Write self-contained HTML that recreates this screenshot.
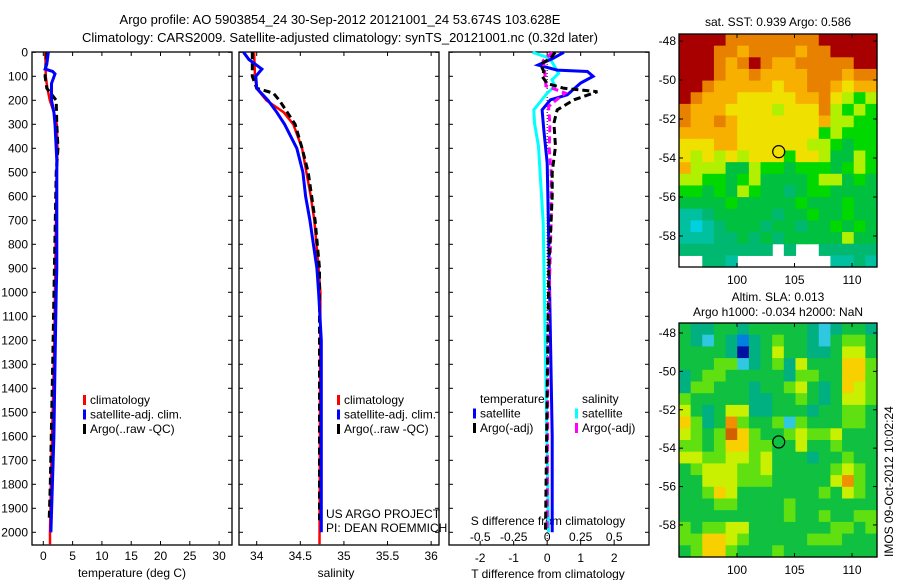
<!DOCTYPE html>
<html><head><meta charset="utf-8"><style>
body{margin:0;background:#fff;}
svg{display:block;font-family:"Liberation Sans",sans-serif;}
</style></head><body>
<svg id="fig" width="900" height="580" xmlns="http://www.w3.org/2000/svg"></svg>
<script>
// ---------- data ----------
const tempClimDepth=[0,50,100,150,200,250,300,400,500,800,1000,1200,1500,1800,2000,2050];
const tempClim=[0.3,0.4,0.4,0.7,1.1,1.8,2.3,2.4,2.3,2.1,2.0,1.9,1.6,1.3,1.15,1.15];
const tempSatDepth=[0,50,70,80,90,130,200,250,300,450,900,1000,1300,1600,2000];
const tempSat=[0.85,0.6,0.3,1.6,2.0,1.4,1.4,1.8,2.0,2.3,2.3,2.2,2.0,1.8,1.3];
const tempArgoDepth=[0,100,150,200,300,400,500,900,1300,1800,1950];
const tempArgo=[0.6,0.3,0.6,2.2,2.3,2.5,2.2,1.9,1.6,1.2,1.0];
const salClimDepth=[0,100,150,200,250,300,400,500,600,700,900,1000,2050];
const salClim=[33.97,33.98,34.0,34.11,34.31,34.42,34.52,34.57,34.62,34.66,34.71,34.73,34.72];
const salArgoDepth=[0,100,150,170,200,300,400,500,700,900,1950];
const salArgo=[33.95,33.95,34.0,34.19,34.26,34.44,34.52,34.59,34.67,34.72,34.72];
const salSatDepth=[0,30,70,100,150,200,250,300,400,500,600,700,800,900,1000,1200,2000];
const salSat=[33.85,33.91,34.06,33.99,34.0,34.13,34.23,34.32,34.46,34.53,34.56,34.61,34.65,34.69,34.71,34.74,34.74];
const dTsatDepth=[0,25,53,74,80,100,128,177,198,240,323,462,800,1200,1600,2000];
const dTsat=[0.5,0.18,-0.27,0.3,1.2,1.37,1.0,0.6,0.1,-0.15,-0.1,0.0,0.05,0.1,0.15,0.15];
const dTargoDepth=[0,25,50,80,100,130,150,164,198,240,295,392,500,600,900,1400,2000];
const dTargo=[0.24,0.1,-0.2,-0.1,-0.15,0.0,0.5,1.5,0.8,0.3,0.2,0.25,0.15,0.15,0.05,0.0,-0.05];
const dSsatDepth=[0,25,88,115,140,170,205,240,295,392,530,710,1200,2000];
const dSsat=[-0.11,0.02,0.085,0.035,0.06,0.0,-0.05,-0.1,-0.095,-0.065,-0.05,-0.03,-0.015,0.01];
const dSargoDepth=[0,35,100,140,170,184,226,300,400,500,700,1200,2000];
const dSargo=[0.04,-0.03,-0.015,-0.01,0.135,0.1,0.01,0.02,0.015,0.03,0.03,0.005,0.0];
const depthTicks=[0,100,200,300,400,500,600,700,800,900,1000,1100,1200,1300,1400,1500,1600,1700,1800,1900,2000];
const tempTicks=[0,5,10,15,20,25,30];
const salTicks=[34,34.5,35,35.5,36];
const salTickLabels=["34","34.5","35","35.5","36"];
const dTTicks=[-2,-1,0,1,2];
const dSTicks=[-0.5,-0.25,0,0.25,0.5];
const latTicks=[-48,-50,-52,-54,-56,-58];
const lonTicks=[100,105,110];
const argoLon=103.628, argoLat=-53.674;
const sstGrid=[
"99998888888899999","99988788887889999","99987898778888899","99987787777888788",
"99877777677887677","98777666667786545","87776666566685454","87787666666675544",
"77777666666645444","66677666666554344","65656566646653354","75553354434443454",
"55443453333455343","44343543323443333","33334333334333433","11233333233433433",
"10123332332334343","11122323233333533","22222222.2..22222","..221........1121"];
const slaGrid=[
"43344344444323443","43243134544324554","44443034644334664","44455234536444775",
"34554444435544775","35544434456434765","54444433445434665","64346633444344554",
"75348544525444554","65459754456556444","55457755446445444","66556656444344544",
"45666556444445654","44666555444446854","44576444444454654","44455444454444444",
"44444444454454455","54556644444445545","55776544444555444","45775444544444444"];
// ---------- helpers ----------
const svg=document.getElementById('fig');
const NS='http://www.w3.org/2000/svg';
function mk(tag,attrs,parent){const e=document.createElementNS(NS,tag);for(const k in attrs)e.setAttribute(k,attrs[k]);(parent||svg).appendChild(e);return e;}
function txt(x,y,s,anchor,size,parent){const t=mk('text',{x:x,y:y,'text-anchor':anchor||'start','font-size':size||12,fill:'#000'},parent);t.textContent=s;return t;}
const Y=d=>52.3+d*0.24;
const P1={x0:32,x1:232,v0:-1.93,v1:32.2};
const P2={x0:239,x1:439,v0:33.797,v1:36.09};
const P3={x0:449,x1:649,v0:-2.93,v1:3.04};
const P3s={x0:449,x1:649,v0:-0.733,v1:0.76};
const X=(p,v)=>p.x0+(v-p.v0)/(p.v1-p.v0)*(p.x1-p.x0);
const yTop=52,yBot=545;

function frame(p,name){
  const g=mk('g',{});
  
  
  mk('rect',{x:p.x0,y:yTop,width:p.x1-p.x0,height:yBot-yTop,fill:'none',stroke:'#000','stroke-width':1.3},g);
  depthTicks.forEach(d=>{const y=Y(d);mk('line',{x1:p.x0,x2:p.x0+4,y1:y,y2:y,stroke:'#000'},g);mk('line',{x1:p.x1-4,x2:p.x1,y1:y,y2:y,stroke:'#000'},g);});
  return g;
}
function line(p,depths,vals,color,w,dash,name){
  const pts=depths.map((d,i)=>X(p,vals[i]).toFixed(1)+','+Y(d).toFixed(1)).join(' ');
  const e=mk('polyline',{points:pts,fill:'none',stroke:color,'stroke-width':w,'stroke-dasharray':dash||'none'});
  
  
}
function xticks(p,ticks,labels,ly,g){
  ticks.forEach((t,i)=>{const x=X(p,t);mk('line',{x1:x,x2:x,y1:yTop,y2:yTop+4,stroke:'#000'},g);mk('line',{x1:x,x2:x,y1:yBot-4,y2:yBot,stroke:'#000'},g);
    if(labels)txt(x,ly,labels[i],'middle',12,g);});
}
let t=txt(340,24,'Argo profile: AO 5903854_24 30-Sep-2012 20121001_24 53.674S 103.628E','middle',13);

t=txt(340,42,'Climatology: CARS2009. Satellite-adjusted climatology: synTS_20121001.nc (0.32d later)','middle',13);


const g1=frame(P1,'temperature-panel');
depthTicks.forEach(d=>txt(28,Y(d)+4,String(d),'end',12,g1));
xticks(P1,tempTicks,tempTicks.map(String),560,g1);
txt(132,577,'temperature (deg C)','middle',12,g1);
line(P1,tempClimDepth,tempClim,'#f00',2.5,null,'temp-climatology-line');
line(P1,tempArgoDepth,tempArgo,'#000',3,'7,4','temp-argo-line');
line(P1,tempSatDepth,tempSat,'#00f',3,null,'temp-satellite-line');
const g2=frame(P2,'salinity-panel');
xticks(P2,salTicks,salTickLabels,560,g2);
txt(336,577,'salinity','middle',12,g2);
line(P2,salClimDepth,salClim,'#f00',2.5,null,'sal-climatology-line');
line(P2,salArgoDepth,salArgo,'#000',3,'7,4','sal-argo-line');
line(P2,salSatDepth,salSat,'#00f',3,null,'sal-satellite-line');
const g3=frame(P3,'difference-panel');
xticks(P3,dTTicks,dTTicks.map(String),562,g3);
dSTicks.forEach(s=>{const x=X(P3s,s);txt(x,541,String(s),'middle',12,g3);});
txt(548,578,'T difference from climatology','middle',12,g3);
txt(548,525,'S difference from climatology','middle',12,g3);
mk('line',{x1:X(P3,0),x2:X(P3,0),y1:yTop,y2:yBot,stroke:'#000','stroke-dasharray':'1,2'},g3);
line(P3s,dSsatDepth,dSsat,'#0ff',3,null,'sal-diff-satellite-line');
line(P3,dTsatDepth,dTsat,'#00f',3,null,'temp-diff-satellite-line');
line(P3s,dSargoDepth,dSargo,'#f0f',3,'7,4','sal-diff-argo-line');
line(P3,dTargoDepth,dTargo,'#000',3,'7,4','temp-diff-argo-line');

function legend(x,y,items,name){
  const g=mk('g',{});
  items.forEach((it,i)=>{const yy=y+i*14.5;if(it[1])mk('rect',{x:x,y:yy-9,width:3,height:10,fill:it[1]},g);txt(x+7,yy,it[0],'start',12,g);});
}
legend(83,404,[['climatology','#f00'],['satellite-adj. clim.','#00f'],['Argo(..raw -QC)','#000']],'temperature-legend');
legend(337,404,[['climatology','#f00'],['satellite-adj. clim.','#00f'],['Argo(..raw -QC)','#000']],'salinity-legend');
legend(473,403,[['temperature',null],['satellite','#00f'],['Argo(-adj)','#000']],'temp-diff-legend');
legend(575,403,[['salinity',null],['satellite','#0ff'],['Argo(-adj)','#f0f']],'sal-diff-legend');
txt(326,518,'US ARGO PROJECT','start',12);
txt(326,532,'PI: DEAN ROEMMICH','start',12);

const sstCols=['#00d0e0','#00c0a0','#00b870','#00c040','#00d800','#b0f000','#f0e000','#f8b000','#e88000','#a80000'];
const slaCols=['#0010a0','#0080e0','#30c8e0','#00b080','#10c040','#60e010','#c8f000','#f8d000','#f09000','#d06000'];
function map(m,grid,cols,name,titles){
  const g=mk('g',{});
  const rows=grid.length,ncol=grid[0].length,cw=(m.x1-m.x0)/ncol,rh=(m.y1-m.y0)/rows;
  grid.forEach((r,i)=>{for(let j=0;j<ncol;j++){const c=r[j];if(c==='.')continue;
    const cell=mk('rect',{x:(m.x0+j*cw).toFixed(2),y:(m.y0+i*rh).toFixed(2),width:(cw+0.6).toFixed(2),height:(rh+0.6).toFixed(2),fill:cols[+c]},g);
    
    }});
  const LX=lon=>m.x0+(lon-m.lon0)/(m.lon1-m.lon0)*(m.x1-m.x0);
  const LY=lat=>m.y0+(m.lat0-lat)/(m.lat0-m.lat1)*(m.y1-m.y0);
  mk('rect',{x:m.x0,y:m.y0,width:m.x1-m.x0,height:m.y1-m.y0,fill:'none',stroke:'#000','stroke-width':1.3},g);
  latTicks.forEach(l=>{const y=LY(l);mk('line',{x1:m.x0,x2:m.x0+4,y1:y,y2:y,stroke:'#000'},g);mk('line',{x1:m.x1-4,x2:m.x1,y1:y,y2:y,stroke:'#000'},g);txt(m.x0-3,y+4,String(l),'end',12,g);});
  lonTicks.forEach(l=>{const x=LX(l);mk('line',{x1:x,x2:x,y1:m.y0,y2:m.y0+4,stroke:'#000'},g);mk('line',{x1:x,x2:x,y1:m.y1-4,y2:m.y1,stroke:'#000'},g);txt(x,m.y1+17,String(l),'middle',12,g);});
  const c=mk('circle',{cx:LX(argoLon),cy:LY(argoLat),r:6,fill:'none',stroke:'#000','stroke-width':1.2},g);
  
  titles.forEach(tt=>txt(778,tt[1],tt[0],'middle',12,g));
}
map({x0:679,x1:877,y0:34,y1:267,lon0:94.96,lon1:112.17,lat0:-47.64,lat1:-59.59},sstGrid,sstCols,'sst-map',[['sat. SST: 0.939 Argo: 0.586',26]]);
map({x0:679,x1:877,y0:323,y1:557,lon0:94.96,lon1:112.17,lat0:-47.48,lat1:-59.67},slaGrid,slaCols,'sla-map',[['Altim. SLA: 0.013',301],['Argo h1000: -0.034 h2000: NaN',316]]);
t=txt(0,0,'IMOS 09-Oct-2012 10:02:24','start',12);
t.setAttribute('transform','translate(893,557) rotate(-90)');

</script>
</body></html>
